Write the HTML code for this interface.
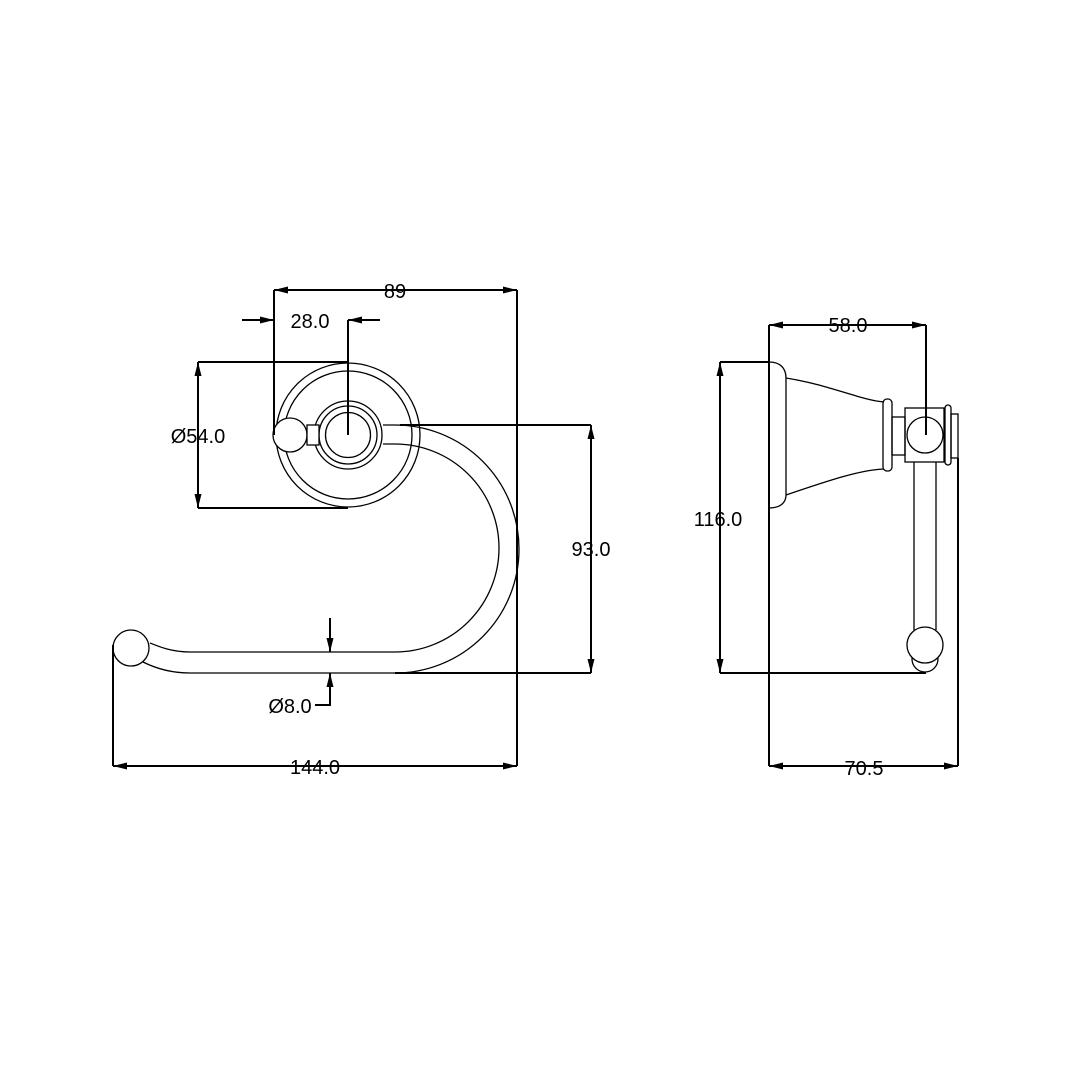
<!DOCTYPE html>
<html><head><meta charset="utf-8"><style>html,body{margin:0;padding:0;background:#fff}</style></head>
<body>
<svg width="1080" height="1080" viewBox="0 0 1080 1080" xmlns="http://www.w3.org/2000/svg">
<defs>
<marker id="a" viewBox="0 0 14 7" refX="14" refY="3.5" markerWidth="14" markerHeight="7" orient="auto" markerUnits="userSpaceOnUse"><path d="M0,0 L14,3.5 L0,7 z" fill="#000"/></marker>
</defs>
<g fill="none" stroke="#000" stroke-width="1.3">
<circle cx="348" cy="435" r="72"/>
<circle cx="348" cy="435" r="64"/>
<circle cx="348" cy="435" r="34"/>
<circle cx="348" cy="435" r="29"/>
<circle cx="348" cy="435" r="22.5"/>
<circle cx="290" cy="435" r="17" fill="#fff"/>
<rect x="307" y="425" width="12" height="20" fill="#fff"/>
<path d="M383,425 L395,425 A124,124 0 0 1 395,673 L190,673 C170,673 155,668 143,662"/>
<path d="M383,444 L395,444 A104,104 0 0 1 395,652 L190,652 C172,652 160,647 150,643"/>
<circle cx="131" cy="648" r="18" fill="#fff"/>
<path d="M769,362 C780,362 786,368 786,378 L786,495 C786,503 780,508 769,508"/>
<path d="M786,378 C830,385 860,400 884,402"/>
<path d="M786,495 C830,480 860,470 884,469"/>
<rect x="883" y="399" width="9" height="72" rx="4"/>
<rect x="892" y="417" width="13" height="38"/>
<rect x="905" y="408" width="39" height="54"/>
<circle cx="925" cy="435" r="18"/>
<rect x="945" y="405" width="6" height="60" rx="3"/>
<rect x="951" y="414" width="7" height="44"/>
<line x1="914" y1="462" x2="914" y2="630"/>
<line x1="936" y1="462" x2="936" y2="630"/>
<circle cx="925" cy="659" r="13"/>
<circle cx="925" cy="645" r="18" fill="#fff"/>
</g>
<g fill="none" stroke="#000" stroke-width="2">
<line x1="395" y1="290" x2="274" y2="290" marker-end="url(#a)"/>
<line x1="395" y1="290" x2="517" y2="290" marker-end="url(#a)"/>
<line x1="274" y1="290" x2="274" y2="435"/>
<line x1="517" y1="290" x2="517" y2="766"/>
<line x1="242" y1="320" x2="274" y2="320" marker-end="url(#a)"/>
<line x1="380" y1="320" x2="348" y2="320" marker-end="url(#a)"/>
<line x1="348" y1="320" x2="348" y2="435"/>
<line x1="198" y1="362" x2="348" y2="362"/>
<line x1="198" y1="508" x2="348" y2="508"/>
<line x1="198" y1="435" x2="198" y2="362" marker-end="url(#a)"/>
<line x1="198" y1="435" x2="198" y2="508" marker-end="url(#a)"/>
<line x1="400" y1="425" x2="591" y2="425"/>
<line x1="395" y1="673" x2="591" y2="673"/>
<line x1="591" y1="549" x2="591" y2="425" marker-end="url(#a)"/>
<line x1="591" y1="549" x2="591" y2="673" marker-end="url(#a)"/>
<line x1="330" y1="618" x2="330" y2="652" marker-end="url(#a)"/>
<polyline points="315,705 330,705 330,673" marker-end="url(#a)"/>
<line x1="113" y1="645" x2="113" y2="766"/>
<line x1="315" y1="766" x2="113" y2="766" marker-end="url(#a)"/>
<line x1="315" y1="766" x2="517" y2="766" marker-end="url(#a)"/>
<line x1="769" y1="325" x2="769" y2="766"/>
<line x1="926" y1="325" x2="926" y2="435"/>
<line x1="848" y1="325" x2="769" y2="325" marker-end="url(#a)"/>
<line x1="848" y1="325" x2="926" y2="325" marker-end="url(#a)"/>
<line x1="720" y1="362" x2="769" y2="362"/>
<line x1="720" y1="673" x2="926" y2="673"/>
<line x1="720" y1="518" x2="720" y2="362" marker-end="url(#a)"/>
<line x1="720" y1="518" x2="720" y2="673" marker-end="url(#a)"/>
<line x1="958" y1="458" x2="958" y2="766"/>
<line x1="864" y1="766" x2="769" y2="766" marker-end="url(#a)"/>
<line x1="864" y1="766" x2="958" y2="766" marker-end="url(#a)"/>
</g>
<g font-family="Liberation Sans, sans-serif" font-size="20" fill="#000" text-anchor="middle">
<text x="395" y="298">89</text>
<text x="310" y="328">28.0</text>
<text x="198" y="443">Ø54.0</text>
<text x="591" y="556">93.0</text>
<text x="290" y="713">Ø8.0</text>
<text x="315" y="774">144.0</text>
<text x="848" y="332">58.0</text>
<text x="718" y="526">116.0</text>
<text x="864" y="775">70.5</text>
</g>
</svg>
</body></html>
